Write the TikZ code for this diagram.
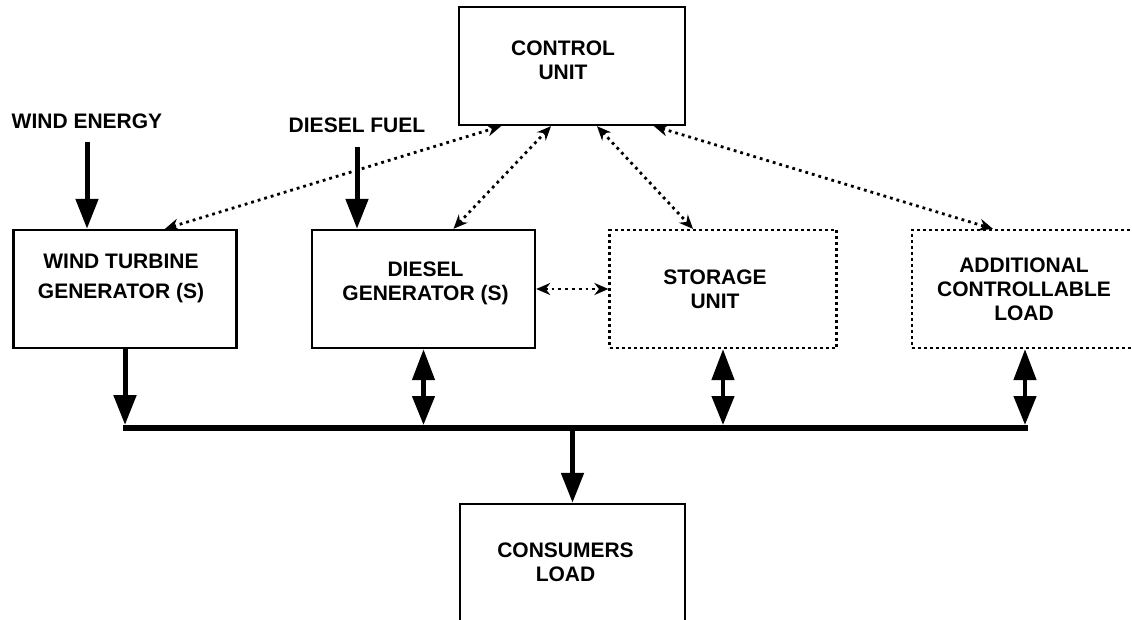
\documentclass[tikz,border=0pt]{standalone}
\usepackage{fontspec}
\setmainfont{Liberation Sans}
\usetikzlibrary{arrows.meta}

\begin{document}
\begin{tikzpicture}[x=1pt, y=-1pt, font=\bfseries\fontsize{21}{24}\selectfont, unit/.style={draw, rectangle, line width=2.4pt, minimum width=223pt, minimum height=118pt}, opt/.style={unit, line width=2.2pt, dash pattern=on 3pt off 3pt}, txt/.style={inner sep=2pt}, every label/.style={align=center}, power/.style={line width=5pt, -{Triangle[length=30pt, width=22pt]}}, both/.style={line width=4.5pt, {Triangle[length=31pt, width=22pt]}-{Triangle[length=29pt, width=22pt]}}, sig/.style={line width=2.8pt, dash pattern=on 2.8pt off 4pt, {Stealth[length=14pt, width=12pt]}-{Stealth[length=14pt, width=12pt]}}, bus/.style={line width=6pt}]
            \useasboundingbox (0,0) rectangle (1132,620);
            % nodes
            \node[unit, minimum width=226pt] (ctrl) at (572,66) {};
            \node[unit] (wtg) at (125,289) {};
            \node[unit] (dg) at (423.5,289) {};
            \node[opt, minimum width=227pt] (su) at (723,289) {};
            \node[opt, minimum width=230pt] (acl) at (1027,289) {};
            \node[unit, minimum width=225pt, minimum height=140pt] (cons) at (572.5,574) {};
            \node[txt] (we) at (87,121) {WIND ENERGY};
            \node[txt] (df) at (357,125) {DIESEL FUEL};
            \coordinate (busL) at (123,428);
            \coordinate (busR) at (1028,428);
            % texts
            \path (ctrl) node[label={[xshift=-9pt, yshift=6pt]center:CONTROL\\UNIT}] {};
            \path (wtg) node[label={[xshift=-4pt, yshift=11pt]center:WIND TURBINE\\[6pt]GENERATOR (S)}] {};
            \path (dg) node[label={[xshift=2pt, yshift=6pt]center:DIESEL\\GENERATOR (S)}] {};
            \path (su) node[label={[xshift=-8pt]center:STORAGE\\UNIT}] {};
            \path (acl) node[label={[xshift=-3pt]center:ADDITIONAL\\CONTROLLABLE\\LOAD}] {};
            \path (cons) node[label={[xshift=-7pt, yshift=12pt]center:CONSUMERS\\LOAD}] {};
            % edges
            \draw[power, shorten <=11pt] (we.south) -- (we.south |- wtg.north);
            \draw[power, shorten <=12pt] (df.south) -- (df.south |- dg.north);
            \draw[bus] (busL) -- (busR);
            \draw[power, shorten >=3pt] (wtg.south) -- (wtg.south |- busL);
            \draw[both, shorten >=3pt] (dg.south) -- (dg.south |- busL);
            \draw[both, shorten >=3pt] (su.south) -- (su.south |- busL);
            \draw[both, shorten >=3pt] ([xshift=-2pt]acl.south) -- ([xshift=-2pt]acl.south |- busL);
            \draw[power] (cons.north |- busL) -- (cons.north);
            \draw[sig] ([xshift=40pt]wtg.north) -- ([xshift=-71pt]ctrl.south);
            \draw[sig] ([xshift=30pt]dg.north) -- ([xshift=-21pt]ctrl.south);
            \draw[sig] ([xshift=25pt]ctrl.south) -- ([xshift=-30pt]su.north);
            \draw[sig] ([xshift=82pt]ctrl.south) -- ([xshift=-34pt]acl.north);
            \draw[sig] (dg.east) -- (su.west);
        \end{tikzpicture}
\end{document}
